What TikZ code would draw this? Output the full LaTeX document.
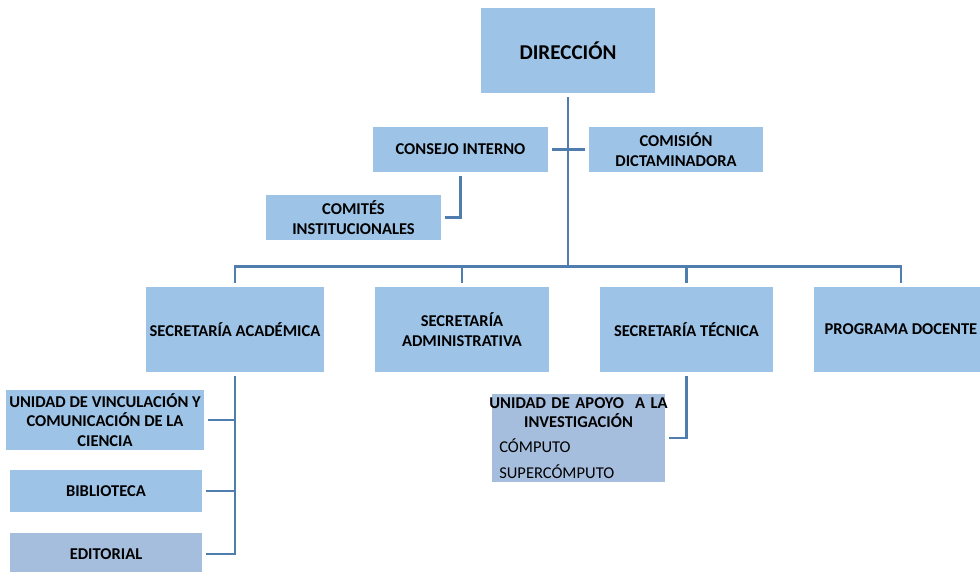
\documentclass[tikz,border=0pt]{standalone}
\usepackage{fontspec}
\setmainfont{Carlito}
\usetikzlibrary{positioning,calc}

\definecolor{boxblue}{RGB}{157,195,230}
\definecolor{boxgray}{RGB}{166,190,221}
\definecolor{linkblue}{RGB}{79,125,174}

\begin{document}
\begin{tikzpicture}[
    unit/.style={fill=boxblue, draw=none, outer sep=2.2pt, inner sep=2pt, align=center, font=\fontsize{9.4}{11}\selectfont\bfseries},
    unitgray/.style={unit, fill=boxgray},
    link/.style={draw=linkblue, line width=1.6pt},
]

% Page size (980 x 571 px, 1px = 0.02cm)
\useasboundingbox (0,0) rectangle (19.6,-11.42);

% === Top level ===
\node[unit, minimum width=3.48cm, minimum height=1.70cm, font=\fontsize{12}{14}\selectfont\bfseries] (dir) at (11.36,-1.01) {DIRECCIÓN};

% === Councils ===
\node[unit, minimum width=3.50cm, minimum height=0.90cm] (consejo) at (9.21,-2.99) {CONSEJO INTERNO};
\node[unit, minimum width=3.48cm, minimum height=0.90cm] (comision) at (13.52,-2.99) {COMISIÓN\\DICTAMINADORA};
\node[unit, minimum width=3.50cm, minimum height=0.90cm] (comites) at (7.07,-4.35) {COMITÉS\\INSTITUCIONALES};

% === Secretariats ===
\node[unit, minimum width=3.48cm, minimum height=1.70cm] (sacad) at (4.70,-6.59) {SECRETARÍA ACADÉMICA};
\node[unit, minimum width=3.48cm, minimum height=1.70cm] (sadmin) at (9.24,-6.59) {SECRETARÍA\\ADMINISTRATIVA};
\node[unit, minimum width=3.46cm, minimum height=1.70cm] (stec) at (13.73,-6.59) {SECRETARÍA TÉCNICA};
\node[unit, minimum width=3.48cm, minimum height=1.70cm] (pdoc) at (18.02,-6.59) {PROGRAMA DOCENTE};

% === Academic units ===
\node[unit, minimum width=3.88cm, minimum height=1.20cm] (vinc) at (2.10,-8.40) {UNIDAD DE VINCULACIÓN Y\\COMUNICACIÓN DE LA\\CIENCIA};
\node[unit, minimum width=3.84cm, minimum height=0.84cm] (biblio) at (2.12,-9.82) {BIBLIOTECA};
\node[unitgray, minimum width=3.84cm, minimum height=0.84cm] (edit) at (2.12,-11.08) {EDITORIAL};

% === Technical unit ===
\node[unitgray, minimum width=3.46cm, minimum height=1.72cm, text width=3.38cm, align=left, inner xsep=1pt] (apoyo) at (11.57,-8.76)
  {{\centering\makebox[0pt]{UNIDAD DE APOYO\ \ A LA}\\INVESTIGACIÓN\par}\vspace{3pt}
   {\mdseries\hspace*{3pt}CÓMPUTO\\[4pt]\hspace*{3pt}SUPERCÓMPUTO}};

% === Connectors ===
\coordinate (bus) at ($(dir.south)+(0,-3.40)$);
\draw[link] (dir.south) -- (bus);
\draw[link] (consejo.east) -- (comision.west);
\draw[link] (consejo.south) |- (comites.east);
\draw[link] (sacad.north) |- (bus) -| (pdoc.north);
\draw[link] (sadmin.north) -- (sadmin.north |- bus);
\draw[link] (stec.north) -- (stec.north |- bus);

% Academic branch
\draw[link] (sacad.south) |- (edit.east);
\draw[link] (vinc.east) -- (vinc.east -| sacad.south);
\draw[link] (biblio.east) -- (biblio.east -| sacad.south);

% Technical branch
\draw[link] (stec.south) |- (apoyo.east);

\end{tikzpicture}
\end{document}
